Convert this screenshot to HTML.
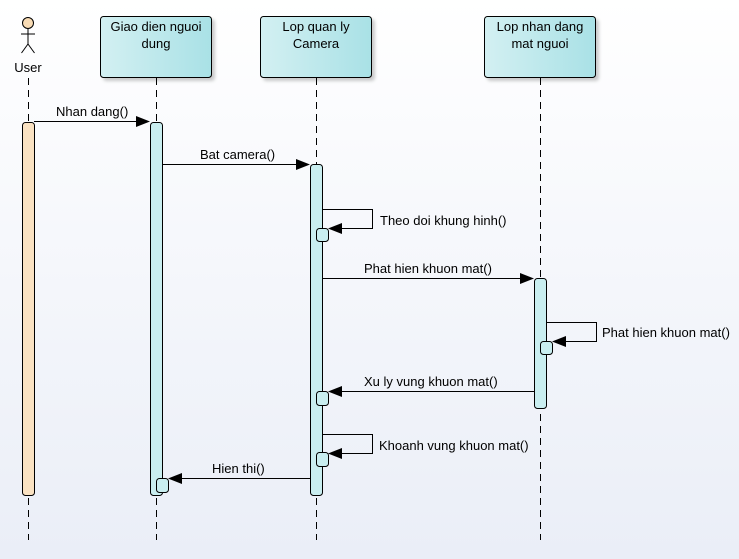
<!DOCTYPE html>
<html><head><meta charset="utf-8"><style>
html,body{margin:0;padding:0;width:739px;height:559px;overflow:hidden}
svg{display:block}
text{font-family:"Liberation Sans",sans-serif;font-size:13px;fill:#000}
</style></head><body>
<svg width="739" height="559" viewBox="0 0 739 559" xmlns="http://www.w3.org/2000/svg">
<defs>
<linearGradient id="bg" x1="0" y1="0" x2="0" y2="1"><stop offset="0" stop-color="#ffffff"/><stop offset="1" stop-color="#eaeef7"/></linearGradient>
<linearGradient id="hd" x1="0" y1="0" x2="1" y2="0"><stop offset="0" stop-color="#d3f0f2"/><stop offset="1" stop-color="#a9e1e6"/></linearGradient>
<filter id="sh" x="-10%" y="-10%" width="130%" height="130%"><feDropShadow dx="3" dy="3" stdDeviation="1.5" flood-color="#000" flood-opacity="0.2"/></filter>
</defs>
<rect width="739" height="559" fill="url(#bg)"/>
<g stroke="#000" stroke-width="1" stroke-dasharray="7,5" fill="none">
<line x1="28.5" y1="78" x2="28.5" y2="540"/>
<line x1="156.5" y1="78" x2="156.5" y2="540"/>
<line x1="316.5" y1="78" x2="316.5" y2="540"/>
<line x1="540.5" y1="78" x2="540.5" y2="540"/>
</g>
<g stroke="#000" fill="none">
<circle cx="28" cy="23" r="5.5" fill="#f9dcb5"/>
<line x1="28" y1="29" x2="28" y2="44"/>
<line x1="21" y1="34" x2="35" y2="34"/>
<line x1="28" y1="44" x2="21.5" y2="53"/>
<line x1="28" y1="44" x2="34.5" y2="53"/>
</g>
<text x="28" y="72" text-anchor="middle">User</text>
<g filter="url(#sh)" stroke="#000" fill="url(#hd)">
<rect x="100.5" y="16.5" width="111" height="61" rx="3"/>
<rect x="260.5" y="16.5" width="111" height="61" rx="3"/>
<rect x="484.5" y="16.5" width="111" height="61" rx="3"/>
</g>
<text x="156" y="31" text-anchor="middle">Giao dien nguoi</text>
<text x="156" y="48" text-anchor="middle">dung</text>
<text x="316" y="31" text-anchor="middle">Lop quan ly</text>
<text x="316" y="48" text-anchor="middle">Camera</text>
<text x="540" y="31" text-anchor="middle">Lop nhan dang</text>
<text x="540" y="48" text-anchor="middle">mat nguoi</text>
<g stroke="#000">
<rect x="22.5" y="122.5" width="12" height="373" rx="3" fill="#fae2c2"/>
<rect x="150.5" y="122.5" width="12" height="373" rx="3" fill="#c9eef0"/>
<rect x="310.5" y="164.5" width="12" height="331" rx="3" fill="#c9eef0"/>
<rect x="534.5" y="278.5" width="12" height="130" rx="3" fill="#c9eef0"/>
<rect x="156.5" y="478.5" width="12" height="14" rx="3" fill="#c9eef0"/>
<rect x="316.5" y="228.5" width="12" height="13" rx="3" fill="#c9eef0"/>
<rect x="316.5" y="391.5" width="12" height="14" rx="3" fill="#c9eef0"/>
<rect x="316.5" y="452.5" width="12" height="14" rx="3" fill="#c9eef0"/>
<rect x="540.5" y="341.5" width="12" height="13" rx="3" fill="#c9eef0"/>
</g>
<g stroke="#000" fill="none">
<line x1="34" y1="121.5" x2="138" y2="121.5"/>
<line x1="162" y1="164.5" x2="298" y2="164.5"/>
<polyline points="322,209.5 372.5,209.5 372.5,228.5 340,228.5"/>
<line x1="322" y1="278.5" x2="522" y2="278.5"/>
<polyline points="546,322.5 596.5,322.5 596.5,341.5 564,341.5"/>
<line x1="534" y1="391.5" x2="340" y2="391.5"/>
<polyline points="322,434.5 372.5,434.5 372.5,453.5 340,453.5"/>
<line x1="310" y1="478.5" x2="180" y2="478.5"/>
</g>
<g fill="#000">
<polygon points="150,121.5 136,116 136,127"/>
<polygon points="310,164.5 296,159 296,170"/>
<polygon points="328,228.5 342,223 342,234"/>
<polygon points="534,278.5 520,273 520,284"/>
<polygon points="552,341.5 566,336 566,347"/>
<polygon points="328,391.5 342,386 342,397"/>
<polygon points="328,453.5 342,448 342,459"/>
<polygon points="168,478.5 182,473 182,484"/>
</g>
<text x="56" y="116">Nhan dang()</text>
<text x="200" y="159">Bat camera()</text>
<text x="380" y="225">Theo doi khung hinh()</text>
<text x="364" y="273">Phat hien khuon mat()</text>
<text x="602" y="337">Phat hien khuon mat()</text>
<text x="364" y="386">Xu ly vung khuon mat()</text>
<text x="379" y="450">Khoanh vung khuon mat()</text>
<text x="212" y="473">Hien thi()</text>
</svg>
</body></html>
